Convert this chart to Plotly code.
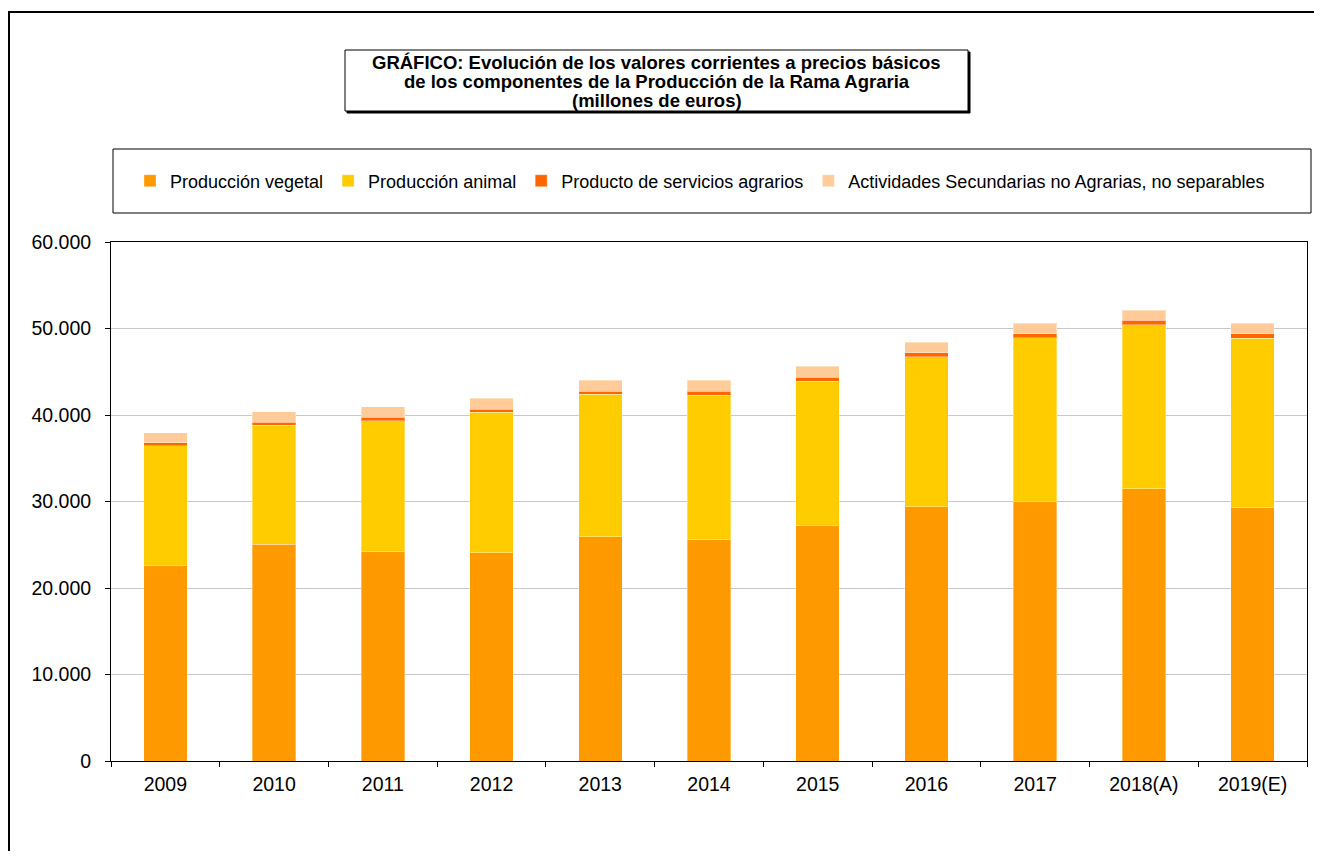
import plotly.graph_objects as go

categories = ["2009", "2010", "2011", "2012", "2013", "2014", "2015", "2016", "2017", "2018(A)", "2019(E)"]
produccion_vegetal = [22580, 25050, 24200, 24080, 25930, 25590, 27250, 29400, 29980, 31480, 29280]
produccion_animal = [13870, 13790, 15140, 16230, 16460, 16720, 16680, 17310, 18960, 18960, 19620]
servicios_agrarios = [330, 350, 390, 380, 385, 460, 460, 460, 460, 500, 500]
actividades_secundarias = [1190, 1190, 1230, 1240, 1270, 1230, 1270, 1230, 1230, 1190, 1230]

series_names = [
    "Producción vegetal",
    "Producción animal",
    "Producto de servicios agrarios",
    "Actividades Secundarias no Agrarias, no separables",
]
series_values = [produccion_vegetal, produccion_animal, servicios_agrarios, actividades_secundarias]
series_colors = ["#FF9900", "#FFCC00", "#FF6600", "#FFCC99"]

FONT = "Arial, 'Liberation Sans', sans-serif"
OFF = 8  # page body margin
W, H = 1306, 843
# plot area in page pixels
PL, PR, PT, PB = 111, 1307, 242, 761
L, R, T, B = PL - OFF, PR - OFF, PT - OFF, PB - OFF


def px(x):  # page x -> paper
    return (x - OFF - L) / (R - L)


def py(y):  # page y -> paper
    return (B - (y - OFF)) / (B - T)


fig = go.Figure()
for name, vals, col in zip(series_names, series_values, series_colors):
    fig.add_trace(go.Bar(
        x=categories, y=vals, name=name,
        marker=dict(color=col, line=dict(color="rgba(255,255,255,0.35)", width=1)),
    ))

shapes = [
    # outer frame
    dict(type="rect", xref="paper", yref="paper", x0=px(9), x1=px(1340), y0=py(900), y1=py(12),
         line=dict(color="black", width=2), layer="below"),
    # title box shadow + box
    dict(type="rect", xref="paper", yref="paper", x0=px(347), x1=px(970), y0=py(113), y1=py(52),
         line=dict(color="black", width=1), fillcolor="black", layer="below"),
    dict(type="rect", xref="paper", yref="paper", x0=px(345), x1=px(968), y0=py(111), y1=py(50),
         line=dict(color="black", width=1), fillcolor="white", layer="below"),
    # legend box
    dict(type="rect", xref="paper", yref="paper", x0=px(113), x1=px(1311), y0=py(213), y1=py(149),
         line=dict(color="black", width=1), fillcolor="white", layer="below"),
]

title_lines = [
    "GRÁFICO: Evolución de los valores corrientes a precios básicos",
    "de los componentes de la Producción de la Rama Agraria",
    "(millones de euros)",
]
title_y = [62.5, 81.5, 100.5]
annotations = [
    dict(text="<b>%s</b>" % t, xref="paper", yref="paper", x=px(656.5), y=py(yy),
         xanchor="center", yanchor="middle", showarrow=False,
         font=dict(family=FONT, size=18.5, color="black"))
    for t, yy in zip(title_lines, title_y)
]

fig.update_layout(
    width=W, height=H,
    margin=dict(l=L, r=W - R, t=T, b=H - B, pad=0),
    paper_bgcolor="white", plot_bgcolor="white",
    barmode="stack", bargap=0.6,
    separators=",.",
    font=dict(family=FONT, size=18, color="black"),
    shapes=shapes, annotations=annotations,
    showlegend=True,
    legend=dict(orientation="h", x=px(130), y=py(181), xanchor="left", yanchor="middle",
                bgcolor="rgba(0,0,0,0)", borderwidth=0,
                font=dict(family=FONT, size=18, color="black"),
                traceorder="normal", itemclick=False, itemdoubleclick=False),
    xaxis=dict(
        type="category", showline=True, linecolor="black", linewidth=1, mirror=True,
        ticks="outside", tickson="boundaries", ticklen=5, tickcolor="black",
        tickfont=dict(family=FONT, size=19.5, color="black"), showgrid=False,
        ticklabelstandoff=6, fixedrange=True,
    ),
    yaxis=dict(
        range=[0, 60000], dtick=10000, tickformat=",d",
        showline=True, linecolor="black", linewidth=1, mirror=True,
        ticks="outside", ticklen=5, tickcolor="black",
        showgrid=True, gridcolor="#C8C8C8", gridwidth=1,
        tickfont=dict(family=FONT, size=19.5, color="black"), ticklabelstandoff=10,
        zeroline=False, fixedrange=True,
    ),
)

fig.write_html("out.html")
